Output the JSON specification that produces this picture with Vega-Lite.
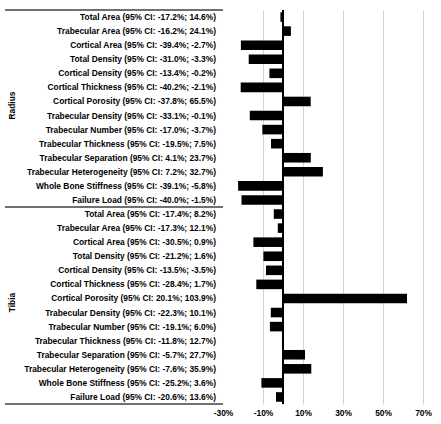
{
  "$schema": "https://vega.github.io/schema/vega-lite/v6.json",
  "padding": {"left": 4, "top": 9, "right": 0, "bottom": 0},
  "background": "white",
  "bounds": "flush",
  "spacing": 0,
  "config": {
    "view": {"stroke": null},
    "font": "Liberation Sans",
    "text": {"font": "Liberation Sans", "fontWeight": "bold", "fontSize": 8.4, "color": "#000000"}
  },
  "data": {
    "values": [
      {"site": "Radius", "label": "Total Area (95% CI: -17.2%; 14.6%)", "value": -1.3},
      {"site": "Radius", "label": "Trabecular Area (95% CI: -16.2%; 24.1%)", "value": 3.95},
      {"site": "Radius", "label": "Cortical Area (95% CI: -39.4%; -2.7%)", "value": -21.05},
      {"site": "Radius", "label": "Total Density (95% CI: -31.0%; -3.3%)", "value": -17.15},
      {"site": "Radius", "label": "Cortical Density (95% CI: -13.4%; -0.2%)", "value": -6.8},
      {"site": "Radius", "label": "Cortical Thickness (95% CI: -40.2%; -2.1%)", "value": -21.15},
      {"site": "Radius", "label": "Cortical Porosity (95% CI: -37.8%; 65.5%)", "value": 13.85},
      {"site": "Radius", "label": "Trabecular Density (95% CI: -33.1%; -0.1%)", "value": -16.6},
      {"site": "Radius", "label": "Trabecular Number (95% CI: -17.0%; -3.7%)", "value": -10.35},
      {"site": "Radius", "label": "Trabecular Thickness (95% CI: -19.5%; 7.5%)", "value": -6.0},
      {"site": "Radius", "label": "Trabecular Separation (95% CI: 4.1%; 23.7%)", "value": 13.9},
      {"site": "Radius", "label": "Trabecular Heterogeneity (95% CI: 7.2%; 32.7%)", "value": 19.95},
      {"site": "Radius", "label": "Whole Bone Stiffness (95% CI: -39.1%; -5.8%)", "value": -22.45},
      {"site": "Radius", "label": "Failure Load (95% CI: -40.0%; -1.5%)", "value": -20.75},
      {"site": "Tibia", "label": "Total Area (95% CI: -17.4%; 8.2%)", "value": -4.6},
      {"site": "Tibia", "label": "Trabecular Area (95% CI: -17.3%; 12.1%)", "value": -2.6},
      {"site": "Tibia", "label": "Cortical Area (95% CI: -30.5%; 0.9%)", "value": -14.8},
      {"site": "Tibia", "label": "Total Density (95% CI: -21.2%; 1.6%)", "value": -9.8},
      {"site": "Tibia", "label": "Cortical Density (95% CI: -13.5%; -3.5%)", "value": -8.5},
      {"site": "Tibia", "label": "Cortical Thickness (95% CI: -28.4%; 1.7%)", "value": -13.35},
      {"site": "Tibia", "label": "Cortical Porosity (95% CI: 20.1%; 103.9%)", "value": 62.0},
      {"site": "Tibia", "label": "Trabecular Density (95% CI: -22.3%; 10.1%)", "value": -6.1},
      {"site": "Tibia", "label": "Trabecular Number (95% CI: -19.1%; 6.0%)", "value": -6.55},
      {"site": "Tibia", "label": "Trabecular Thickness (95% CI: -11.8%; 12.7%)", "value": 0.45},
      {"site": "Tibia", "label": "Trabecular Separation (95% CI: -5.7%; 27.7%)", "value": 11.0},
      {"site": "Tibia", "label": "Trabecular Heterogeneity (95% CI: -7.6%; 35.9%)", "value": 14.15},
      {"site": "Tibia", "label": "Whole Bone Stiffness (95% CI: -25.2%; 3.6%)", "value": -10.8},
      {"site": "Tibia", "label": "Failure Load (95% CI: -20.6%; 13.6%)", "value": -3.5}
    ]
  },
  "hconcat": [
    {
      "width": 218,
      "height": 394,
      "transform": [
        {"window": [{"op": "row_number", "as": "idx"}], "groupby": ["site"]}
      ],
      "layer": [
        {
          "mark": {"type": "text", "align": "right", "baseline": "middle", "dx": -7},
          "encoding": {
            "y": {"field": "label", "type": "nominal", "sort": null, "scale": {"type": "band", "paddingInner": 0, "paddingOuter": 0}, "axis": null},
            "x": {"datum": 1, "type": "quantitative", "scale": {"domain": [0, 1]}, "axis": null},
            "text": {"field": "label"}
          }
        },
        {
          "transform": [{"filter": "datum.idx == 1"}],
          "mark": {"type": "rule", "color": "#404040", "strokeWidth": 1.3},
          "encoding": {
            "y": {"field": "label", "type": "nominal", "sort": null, "bandPosition": 0}
          }
        },
        {
          "transform": [{"filter": "datum.idx == 14 && datum.site == 'Tibia'"}],
          "mark": {"type": "rule", "color": "#404040", "strokeWidth": 1.3},
          "encoding": {
            "y": {"field": "label", "type": "nominal", "sort": null, "bandPosition": 1}
          }
        },
        {
          "transform": [{"filter": "datum.idx == 7"}],
          "mark": {"type": "text", "angle": 270, "align": "center", "baseline": "middle", "dx": 3, "dy": 7},
          "encoding": {
            "y": {"field": "label", "type": "nominal", "sort": null, "bandPosition": 1},
            "x": {"datum": 0, "type": "quantitative"},
            "text": {"field": "site"}
          }
        }
      ]
    },
    {
      "width": 200,
      "height": 394,
      "layer": [
        {
          "mark": {"type": "bar", "color": "#000000"},
          "encoding": {
            "y": {"field": "label", "type": "nominal", "sort": null, "scale": {"paddingInner": 0.32, "paddingOuter": 0.16}, "axis": null},
            "x": {
              "field": "value",
              "type": "quantitative",
              "scale": {"domain": [-30, 70], "nice": false, "zero": false},
              "axis": {
                "values": [-30, -10, 10, 30, 50, 70],
                "tickCount": 10,
                "labelExpr": "datum.value + '%'",
                "title": null,
                "domain": false,
                "ticks": false,
                "grid": true,
                "gridColor": {"condition": {"test": "datum.value == -30", "value": "transparent"}, "value": "#d4d4d4"},
                "labelFont": "Liberation Sans",
                "labelFontWeight": "bold",
                "labelFontSize": 8.4,
                "labelColor": "#000000",
                "labelPadding": 4,
                "labelFlush": false,
                "labelOverlap": false
              }
            }
          }
        },
        {
          "mark": {"type": "rule", "color": "#000000", "strokeWidth": 1},
          "encoding": {
            "x": {"datum": 0, "type": "quantitative"}
          }
        }
      ]
    }
  ]
}
